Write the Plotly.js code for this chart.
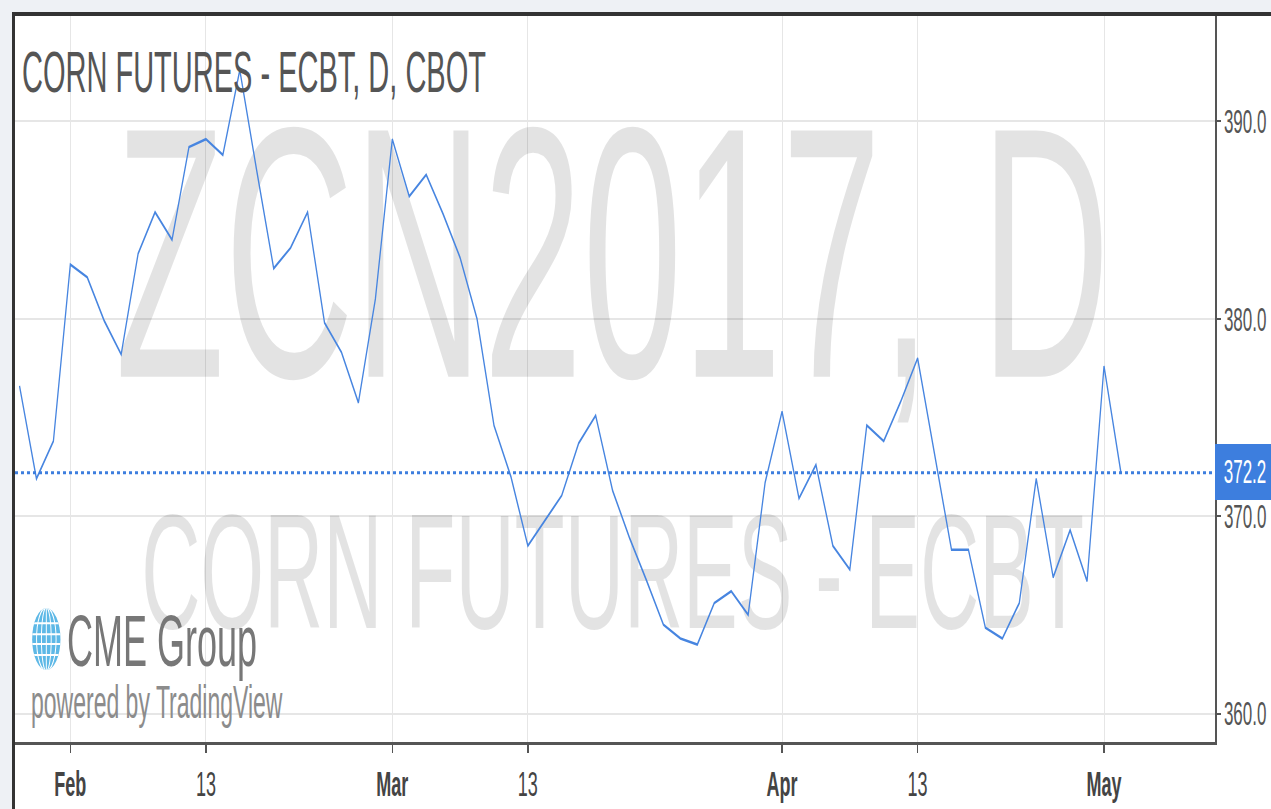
<!DOCTYPE html>
<html>
<head>
<meta charset="utf-8">
<script src="https://cdn.plot.ly/plotly-3.0.1.min.js"></script>
<style>
  html, body { margin:0; padding:0; background:#eef1f5; overflow:hidden; width:1271px; height:809px; }
  #stage { position:absolute; left:0; top:0; width:1271px; height:405px; transform:scaleY(2); transform-origin:0 0; }
  #panel { position:absolute; left:12px; top:6px; width:1280px; height:420px; background:#fff; border-left:3px solid #333; border-top:2px solid #333; }
  #chart { position:absolute; left:15px; top:8px; width:1256px; height:397px; }
</style>
</head>
<body>
<div id="stage">
  <div id="panel"></div>
  <div id="chart"></div>
</div>
<script>
// Trading days (CBOT daily bars)
const dates = [
  '2017-01-27','2017-01-30','2017-01-31',
  '2017-02-01','2017-02-02','2017-02-03','2017-02-06','2017-02-07','2017-02-08','2017-02-09','2017-02-10',
  '2017-02-13','2017-02-14','2017-02-15','2017-02-16','2017-02-17','2017-02-21','2017-02-22','2017-02-23',
  '2017-02-24','2017-02-27','2017-02-28',
  '2017-03-01','2017-03-02','2017-03-03','2017-03-06','2017-03-07','2017-03-08','2017-03-09','2017-03-10',
  '2017-03-13','2017-03-14','2017-03-15','2017-03-16','2017-03-17','2017-03-20','2017-03-21','2017-03-22',
  '2017-03-23','2017-03-24','2017-03-27','2017-03-28','2017-03-29','2017-03-30','2017-03-31',
  '2017-04-03','2017-04-04','2017-04-05','2017-04-06','2017-04-07','2017-04-10','2017-04-11','2017-04-12',
  '2017-04-13','2017-04-17','2017-04-18','2017-04-19','2017-04-20','2017-04-21','2017-04-24','2017-04-25',
  '2017-04-26','2017-04-27','2017-04-28',
  '2017-05-01','2017-05-02'
];
// Close prices (cents/bushel)
const closes = [
  376.6, 371.9, 373.8,
  382.75, 382.1, 379.9, 378.2, 383.3, 385.4, 384.0, 388.7,
  389.1, 388.3, 392.6, 387.5, 382.55, 383.6, 385.4, 379.8,
  378.3, 375.75, 381.0,
  389.1, 386.2, 387.3, 385.3, 383.1, 380.0, 374.6, 372.0,
  368.5, 369.8, 371.05, 373.7, 375.1, 371.3, 368.9, 366.75,
  364.5, 363.8, 363.5, 365.6, 366.2, 365.0, 371.7,
  375.3, 370.9, 372.6, 368.5, 367.3, 374.6, 373.8, 375.8,
  378.0, 373.2, 368.3, 368.3, 364.35, 363.8, 365.6, 371.9,
  366.9, 369.3, 366.7,
  377.6, 372.2
];
// Axis ticks
const xTickDates  = ['2017-02-01','2017-02-13','2017-03-01','2017-03-13','2017-04-03','2017-04-13','2017-05-01'];
const xTickLabels = ['<b>Feb</b>','13','<b>Mar</b>','13','<b>Apr</b>','13','<b>May</b>'];
const yTickVals   = [360, 370, 380, 390];

const titleText   = 'CORN FUTURES - ECBT, D, CBOT';
const watermark1  = 'ZCN2017, D';
const watermark2  = 'CORN FUTURES - ECBT';
const watermarkAt = '2017-03-20';

const lastPrice = closes[closes.length - 1];
const FONT = 'Liberation Sans, Arial, sans-serif';
const wmColor = 'rgba(0,0,0,0.11)';

const globeSvg = "<svg xmlns='http://www.w3.org/2000/svg' width='30' height='32' viewBox='0 0 30 32'>" +
  "<defs><clipPath id='c'><ellipse cx='15' cy='16' rx='14.5' ry='15.5'/></clipPath></defs>" +
  "<g clip-path='url(#c)'><rect width='30' height='32' fill='#5db8e6'/>" +
  "<g stroke='#ffffff' stroke-width='1' fill='none'><path d='M15 0V32'/>" +
  "<ellipse cx='15' cy='16' rx='5' ry='16'/><ellipse cx='15' cy='16' rx='10' ry='16'/>" +
  "<path d='M0 8H30M0 13.5H30M0 18.5H30M0 24H30'/></g></g></svg>";
const globeSrc = 'data:image/svg+xml;charset=utf-8,' + encodeURIComponent(globeSvg);

const traces = [
  { type:'scatter', mode:'text', x:[watermarkAt], y:[381.6], text:[watermark1],
    textposition:'middle center', textfont:{family:FONT, size:179, color:wmColor},
    hoverinfo:'skip', showlegend:false, cliponaxis:false },
  { type:'scatter', mode:'text', x:[watermarkAt], y:[366.4], text:[watermark2],
    textposition:'middle center', textfont:{family:FONT, size:82, color:wmColor},
    hoverinfo:'skip', showlegend:false, cliponaxis:false },
  { type:'scatter', mode:'lines', x:dates, y:closes,
    line:{color:'#4785e0', width:1.3}, hoverinfo:'skip', showlegend:false }
];

const layout = {
  width:1256, height:397,
  margin:{l:0, r:56, t:0, b:33.5},
  paper_bgcolor:'rgba(0,0,0,0)', plot_bgcolor:'rgba(0,0,0,0)',
  font:{family:FONT},
  showlegend:false,
  xaxis:{
    type:'category', categoryorder:'array', categoryarray:dates, range:[-0.266, 70.55],
    tickmode:'array', tickvals:xTickDates, ticktext:xTickLabels,
    showgrid:true, gridcolor:'#e6e6e6', gridwidth:1,
    showline:true, linecolor:'#555', linewidth:1.5,
    ticks:'outside', ticklen:4, tickwidth:1.5, tickcolor:'#555',
    tickfont:{size:18, color:'#444'}, zeroline:false, fixedrange:true
  },
  yaxis:{
    side:'right', range:[358.56, 395.34],
    tickmode:'array', tickvals:yTickVals, tickformat:'.1f',
    showgrid:true, gridcolor:'#e6e6e6', gridwidth:1,
    showline:true, linecolor:'#555', linewidth:1.5,
    ticks:'outside', ticklen:4, tickwidth:1, tickcolor:'#555',
    tickfont:{size:17, color:'#555'}, zeroline:false, fixedrange:true
  },
  shapes:[
    { type:'line', xref:'paper', x0:0, x1:1, yref:'y', y0:lastPrice, y1:lastPrice,
      line:{color:'#3d7ede', width:1.5, dash:'dot'} }
  ],
  images:[
    { source:globeSrc, xref:'paper', yref:'paper', x:0.0139, y:0.1857, sizex:0.0244, sizey:0.088,
      xanchor:'left', yanchor:'top', sizing:'stretch', layer:'above' }
  ],
  annotations:[
    { text:titleText, xref:'paper', yref:'paper', x:0.0045, y:0.9223, xanchor:'left', yanchor:'middle',
      showarrow:false, font:{size:29, color:'#555555'} },
    { text:'CME Group', xref:'paper', yref:'paper', x:0.0415, y:0.1396, xanchor:'left', yanchor:'middle',
      showarrow:false, font:{size:36, color:'#777'} },
    { text:'powered by TradingView', xref:'paper', yref:'paper', x:0.012, y:0.056, xanchor:'left', yanchor:'middle',
      showarrow:false, font:{size:23, color:'#8c8c8c'} },
    { text:lastPrice.toFixed(1), xref:'paper', yref:'y', x:1, y:lastPrice, xanchor:'left', yanchor:'middle',
      showarrow:false, bgcolor:'#3d7ede', width:60, height:28, align:'center', borderpad:0, borderwidth:0,
      font:{size:17, color:'#ffffff'} }
  ]
};

Plotly.newPlot('chart', traces, layout, {staticPlot:true, displayModeBar:false});
</script>
</body>
</html>
